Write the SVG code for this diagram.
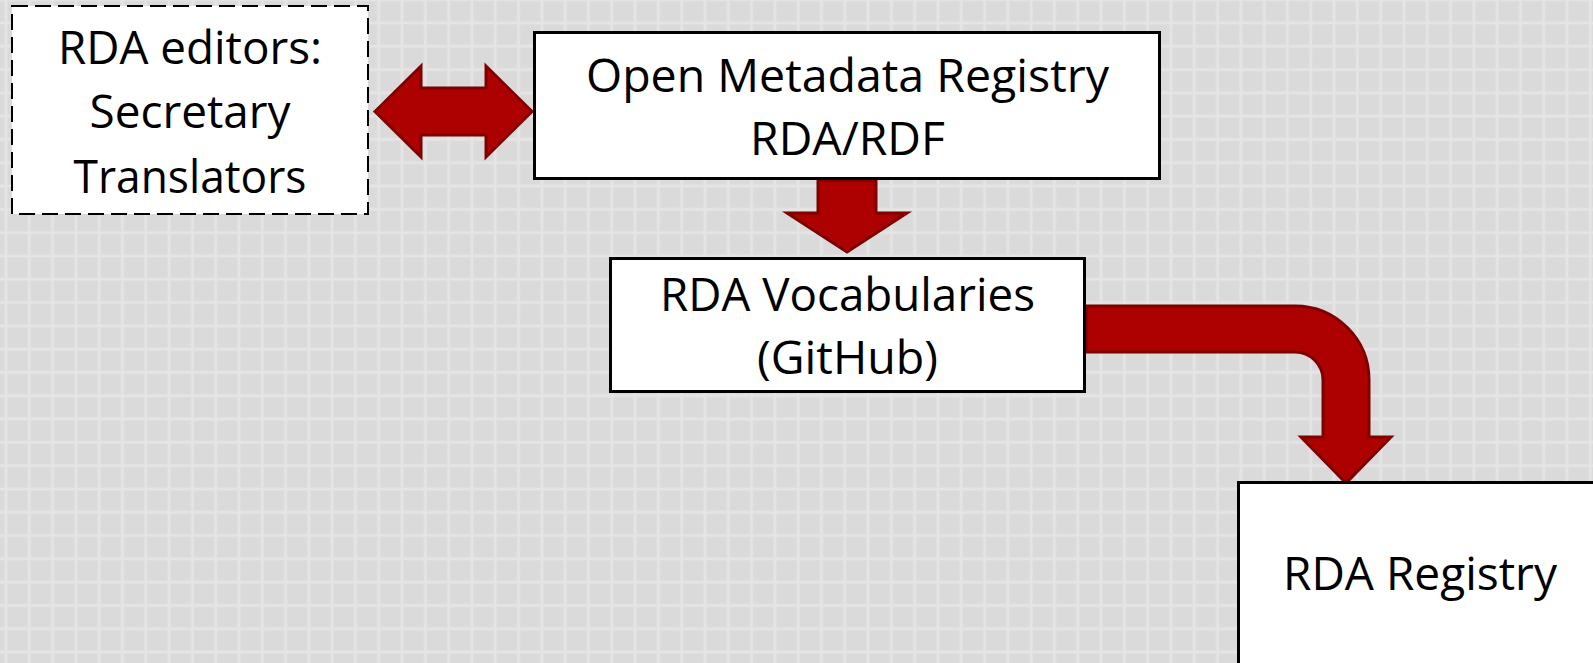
<svg xmlns="http://www.w3.org/2000/svg" width="1593" height="663" viewBox="0 0 1593 663">
<defs>
<pattern id="grid" x="4" y="21" width="23.3" height="23.3" patternUnits="userSpaceOnUse">
<rect width="23.3" height="23.3" fill="#dadada"/>
<rect x="0" y="0" width="4" height="23.3" fill="#dfdfdf"/>
<rect x="0" y="0" width="23.3" height="4" fill="#dfdfdf"/>
<rect x="1" y="0" width="2" height="23.3" fill="#e5e5e5"/>
<rect x="0" y="1" width="23.3" height="2" fill="#e5e5e5"/>
</pattern>
<style>
.box{fill:#ffffff;stroke:#000000;stroke-width:3}
.dash{fill:#ffffff;stroke:#000000;stroke-width:2;stroke-dasharray:16 7}
.lbl{font-family:"Open Sans","Liberation Sans",Arial,sans-serif;font-size:45px;fill:#000000;text-anchor:middle}
.arrow{fill:#ad0000;stroke:#7f0000;stroke-width:3;stroke-linejoin:miter}
</style>
</defs>
<rect width="1593" height="663" fill="url(#grid)"/>
<g id="connectors">
<path class="arrow" d="M375,111.5 L421,66 L421,88 L486,88 L486,66 L532,111.5 L486,157 L486,135 L421,135 L421,157 Z"/>
<path class="arrow" d="M818,180 L876,180 L876,213 L907,213 L847,252 L787,213 L818,213 Z"/>
<path class="arrow" d="M1086,306 L1295,306 A74,74 0 0 1 1369,380 L1369,437 L1391,437 L1346,483 L1301,437 L1323,437 L1323,380 A28,28 0 0 0 1295,352 L1086,352 Z"/>
</g>
<g id="editors">
<rect class="dash" x="12" y="6" width="356" height="208"/>
<text class="lbl" x="190" y="64" textLength="264" lengthAdjust="spacingAndGlyphs">RDA editors:</text>
<text class="lbl" x="190" y="128" textLength="201" lengthAdjust="spacingAndGlyphs">Secretary</text>
<text class="lbl" x="190" y="193" textLength="233" lengthAdjust="spacingAndGlyphs">Translators</text>
</g>
<g id="omr">
<rect class="box" x="534.5" y="32.5" width="625" height="146"/>
<text class="lbl" x="847.5" y="92" textLength="523" lengthAdjust="spacingAndGlyphs">Open Metadata Registry</text>
<text class="lbl" x="847.5" y="155" textLength="195" lengthAdjust="spacingAndGlyphs">RDA/RDF</text>
</g>
<g id="vocabularies">
<rect class="box" x="610.5" y="258.5" width="474" height="133"/>
<text class="lbl" x="847.5" y="311" textLength="375" lengthAdjust="spacingAndGlyphs">RDA Vocabularies</text>
<text class="lbl" x="847.5" y="374" textLength="181" lengthAdjust="spacingAndGlyphs">(GitHub)</text>
</g>
<g id="registry">
<rect class="box" x="1238.5" y="482.5" width="400" height="250"/>
<text class="lbl" x="1420" y="590" textLength="274" lengthAdjust="spacingAndGlyphs">RDA Registry</text>
</g>
</svg>
